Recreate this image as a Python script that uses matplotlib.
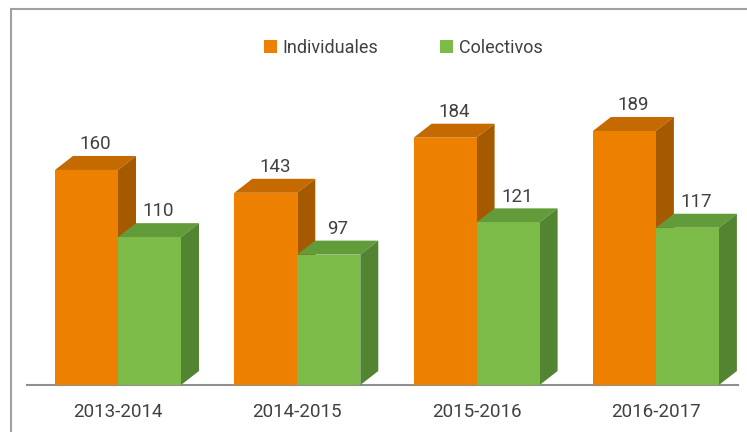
#!/usr/bin/env python3
"""Pseudo-3D grouped bars: Individuales vs Colectivos per academic year."""

import numpy as np
import matplotlib
matplotlib.use("Agg")
import matplotlib.pyplot as plt
from matplotlib.lines import Line2D
from matplotlib.patches import Patch, Polygon, Rectangle

years = ["2013-2014", "2014-2015", "2015-2016", "2016-2017"]
individuales = [160, 143, 184, 189]
colectivos = [110, 97, 121, 117]

W, H = 747, 432
BASE_Y = 385
PX_PER_UNIT = 1.344
GROUP_PX = 179.3
BAR = 63 / GROUP_PX
DX = 18 / GROUP_PX
DY = 14 / PX_PER_UNIT

plt.rcParams["font.family"] = ["Roboto", "DejaVu Sans"]

fig = plt.figure(figsize=(W / 100, H / 100), dpi=100)
ax = fig.add_axes([0, 0, 1, 1])
ax.set_xlim(-118 / GROUP_PX, (W - 118) / GROUP_PX)
ax.set_ylim(-(H - BASE_Y) / PX_PER_UNIT, BASE_Y / PX_PER_UNIT)
ax.axis("off")


def draw_bar(x, val, front, top, side, z):
    ax.bar(x, val, width=BAR, align="edge", color=front, zorder=z + 0.2)
    ax.add_patch(Polygon([(x, val), (x + DX, val + DY), (x + BAR + DX, val + DY), (x + BAR, val)],
                         closed=True, fc=top, ec="none", zorder=z))
    ax.add_patch(Polygon([(x + BAR, 0), (x + BAR + DX, DY), (x + BAR + DX, val + DY), (x + BAR, val)],
                         closed=True, fc=side, ec="none", zorder=z))


for i, year in enumerate(years):
    draw_bar(i - BAR, individuales[i], "#EE8000", "#C46A00", "#A65A00", 2)
    draw_bar(i, colectivos[i], "#7CBB48", "#629C3A", "#528432", 3)
    ax.text(i - BAR / 2 + DX / 2, individuales[i] + DY + 2, str(individuales[i]), ha="center", va="bottom",
            fontsize=13.5, color="#404040", zorder=5)
    ax.text(i + BAR / 2 + DX / 2, colectivos[i] + DY + 2, str(colectivos[i]), ha="center", va="bottom",
            fontsize=13.5, color="#404040", zorder=5)
    ax.text(i, -(412 - BASE_Y) / PX_PER_UNIT, year, ha="center", va="center",
            fontsize=13.5, color="#404040")

# baseline
ax.add_line(Line2D([-91 / GROUP_PX, 620 / GROUP_PX], [0, 0], color="#909090", lw=1.5, zorder=1))

# outer frame, figure pixels
fig.add_artist(Rectangle((11 / W, -0.1), (W + 20) / W, (H - 9) / H + 0.1, transform=fig.transFigure,
                         fc="none", ec="#A0A0A0", lw=1.5))

handles = [Patch(fc="#EE8000", ec="none"), Patch(fc="#7CBB48", ec="none")]
fig.legend(handles, ["Individuales", "Colectivos"], loc="center", bbox_to_anchor=(403 / W, 1 - 48 / H),
           ncol=2, frameon=False, fontsize=13, labelcolor="#404040", handlelength=0.75, handleheight=0.75,
           handletextpad=0.3, columnspacing=3.4)

fig.savefig("out.png", dpi=100)
